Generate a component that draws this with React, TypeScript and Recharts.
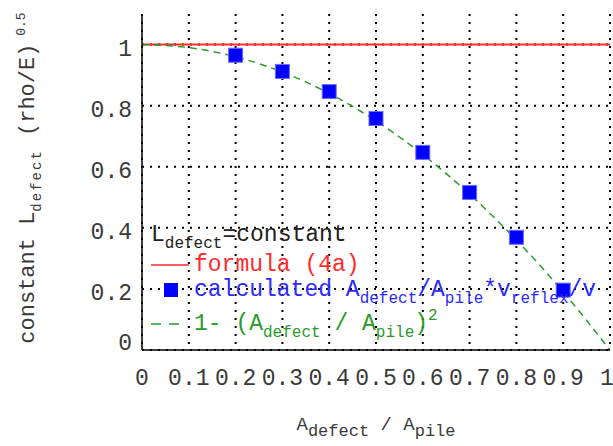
import {
  CartesianGrid,
  ComposedChart,
  Legend,
  Line,
  Scatter,
  XAxis,
  YAxis,
} from "recharts";

// formula (4a): constant 1 over the whole range
const formulaX = [0, 1];
const formulaY = [1, 1];

// calculated points (blue squares)
const calcX = [0.2, 0.3, 0.4, 0.5, 0.6, 0.7, 0.8, 0.9];
const calcY = [0.965, 0.912, 0.846, 0.758, 0.647, 0.516, 0.369, 0.196];

// 1-(Adefect/Apile)^2 curve
const curveX = [0, 0.1, 0.2, 0.3, 0.4, 0.5, 0.6, 0.7, 0.8, 0.9, 1];
const curveY = [1, 0.99, 0.96, 0.91, 0.84, 0.75, 0.64, 0.51, 0.36, 0.19, 0];

const xTicks = [0, 0.1, 0.2, 0.3, 0.4, 0.5, 0.6, 0.7, 0.8, 0.9, 1];
const yTicks = [0, 0.2, 0.4, 0.6, 0.8, 1];
const xMinorTicks = [
  0, 0.02, 0.04, 0.06, 0.08, 0.1, 0.12, 0.14, 0.16, 0.18, 0.2, 0.22, 0.24,
  0.26, 0.28, 0.3, 0.32, 0.34, 0.36, 0.38, 0.4, 0.42, 0.44, 0.46, 0.48, 0.5,
  0.52, 0.54, 0.56, 0.58, 0.6, 0.62, 0.64, 0.66, 0.68, 0.7, 0.72, 0.74, 0.76,
  0.78, 0.8, 0.82, 0.84, 0.86, 0.88, 0.9, 0.92, 0.94, 0.96, 0.98, 1,
];
const yMinorTicks = [
  0, 0.05, 0.1, 0.15, 0.2, 0.25, 0.3, 0.35, 0.4, 0.45, 0.5, 0.55, 0.6, 0.65,
  0.7, 0.75, 0.8, 0.85, 0.9, 0.95, 1, 1.05, 1.1,
];

const formulaData = formulaX.map((x, i) => ({ x, y: formulaY[i] }));
const calcData = calcX.map((x, i) => ({ x, y: calcY[i] }));
const curveData = curveX.map((x, i) => ({ x, y: curveY[i] }));

const FONT = "'Liberation Mono', monospace";
const INK = "#3a3a3a";
const RED = "#ff2a2a";
const BLUE = "#0000ff";
const GREEN = "#2a9a2a";

const noLabel = () => <g />;

function XTick(props: any) {
  const { x, y, payload, index } = props;
  const last = index === xTicks.length - 1;
  return (
    <text
      x={x + (last ? -3 : 0)}
      y={y}
      dy={17}
      textAnchor="middle"
      fontFamily={FONT}
      fontSize={23}
      fill={INK}
    >
      {String(payload.value)}
    </text>
  );
}

function YTick(props: any) {
  const { x, y, payload } = props;
  const v = payload.value;
  return (
    <text
      x={x}
      y={y}
      dy={v === 0 ? 0 : 11}
      textAnchor="end"
      fontFamily={FONT}
      fontSize={23}
      fill={INK}
    >
      {String(v)}
    </text>
  );
}

function Square(props: any) {
  const { cx, cy } = props;
  if (cx == null || cy == null) return <g />;
  return (
    <rect x={cx - 7} y={cy - 7} width={14} height={14} fill={BLUE} stroke="#6a6aff" strokeWidth={1} />
  );
}

function YTitle(props: any) {
  const vb = props.viewBox || { x: 0, y: 14, width: 142, height: 336 };
  const cx = vb.x + 34;
  const cy = vb.y + vb.height / 2 - 4;
  return (
    <text
      x={cx}
      y={cy}
      transform={`rotate(-90 ${cx} ${cy})`}
      textAnchor="middle"
      fontFamily={FONT}
      fontSize={22}
      fill={INK}
    >
      <tspan>constant L</tspan>
      <tspan fontSize={14} letterSpacing={2} dy={7}>defect</tspan>
      <tspan dy={-7}> (rho/E)</tspan>
      <tspan fontSize={13} dy={-9}> 0.5</tspan>
    </text>
  );
}

function XTitle(props: any) {
  const vb = props.viewBox || { x: 142, y: 350, width: 468, height: 96 };
  const cx = vb.x + vb.width / 2;
  return (
    <text x={cx} y={vb.y + 80} textAnchor="middle" fontFamily={FONT} fontSize={19} fill={INK}>
      <tspan>A</tspan>
      <tspan fontSize={17} dy={6}>defect</tspan>
      <tspan dy={-6}> / A</tspan>
      <tspan fontSize={17} dy={6}>pile</tspan>
    </text>
  );
}

const sub = { fontSize: 16, position: "relative" as const, top: 7 };
const sup = { fontSize: 16, position: "relative" as const, top: -10 };

function LegendBox() {
  const row = {
    position: "absolute" as const,
    left: 0,
    whiteSpace: "nowrap" as const,
    fontFamily: FONT,
    fontSize: 23,
    lineHeight: "23px",
  };
  return (
    <div style={{ position: "relative", width: 462, height: 120, overflow: "hidden" }}>
      <div style={{ ...row, top: 2, left: 4, color: "#222" }}>
        L<span style={sub}>defect</span>=constant
      </div>
      <div style={{ ...row, top: 32, color: RED }}>
        <svg width={44} height={20} style={{ verticalAlign: "middle", marginRight: 3 }}>
          <line x1={4} y1={10} x2={42} y2={10} stroke={RED} strokeWidth={1.5} />
        </svg>
        formula (4a)
      </div>
      <div style={{ ...row, top: 57, color: "#2a2aff" }}>
        <svg width={44} height={20} style={{ verticalAlign: "middle", marginRight: 3 }}>
          <rect x={17} y={3} width={14} height={14} fill={BLUE} />
        </svg>
        calculated A<span style={sub}>defect</span>/A<span style={sub}>pile</span>*v<span style={sub}>reflex</span>/v
      </div>
      <div style={{ ...row, top: 91, color: GREEN }}>
        <svg width={44} height={20} style={{ verticalAlign: "middle", marginRight: 3 }}>
          <line x1={4} y1={10} x2={40} y2={10} stroke={GREEN} strokeWidth={1.5} strokeDasharray="10 8" />
        </svg>
        1- (A<span style={sub}>defect</span> / A<span style={sub}>pile</span>)<span style={sup}>2</span>
      </div>
    </div>
  );
}

export default function App() {
  return (
    <div style={{ position: "absolute", left: 0, top: 0, background: "#fff" }}>
      <ComposedChart width={613} height={446} margin={{ top: 14, right: 3, bottom: 0, left: 0 }}>
        <CartesianGrid
          xAxisId="x"
          yAxisId="y"
          stroke="#000"
          strokeWidth={2}
          strokeDasharray="2 6"
          verticalValues={xTicks}
          horizontalValues={yTicks}
        />
        <XAxis
          xAxisId="x"
          dataKey="x"
          type="number"
          domain={[0, 1]}
          ticks={xTicks}
          interval={0}
          tickSize={0}
          tickMargin={18}
          height={96}
          tick={<XTick />}
          axisLine={{ stroke: "#000", strokeWidth: 1.5 }}
          label={<XTitle />}
        />
        <XAxis
          xAxisId="xb"
          type="number"
          domain={[0, 1]}
          ticks={xMinorTicks}
          interval={0}
          mirror
          height={0}
          tickSize={4}
          tick={noLabel}
          tickLine={{ stroke: "#000" }}
          axisLine={false}
        />
        <XAxis
          xAxisId="xt"
          orientation="top"
          type="number"
          domain={[0, 1]}
          ticks={xMinorTicks}
          interval={0}
          mirror
          height={0}
          tickSize={4}
          tick={noLabel}
          tickLine={{ stroke: "#000" }}
          axisLine={{ stroke: "#000", strokeWidth: 1.5 }}
        />
        <YAxis
          yAxisId="y"
          type="number"
          domain={[0, 1.1]}
          ticks={yTicks}
          interval={0}
          width={142}
          tickSize={0}
          tickMargin={10}
          tick={<YTick />}
          axisLine={{ stroke: "#000", strokeWidth: 1.5 }}
          label={<YTitle />}
        />
        <YAxis
          yAxisId="yl"
          type="number"
          domain={[0, 1.1]}
          ticks={yMinorTicks}
          interval={0}
          mirror
          width={0}
          tickSize={4}
          tick={noLabel}
          tickLine={{ stroke: "#000" }}
          axisLine={false}
        />
        <YAxis
          yAxisId="yr"
          orientation="right"
          type="number"
          domain={[0, 1.1]}
          ticks={yMinorTicks}
          interval={0}
          mirror
          width={0}
          tickSize={4}
          tick={noLabel}
          tickLine={{ stroke: "#000" }}
          axisLine={{ stroke: "#000", strokeWidth: 1.5 }}
        />
        <Line
          xAxisId="x"
          yAxisId="y"
          data={formulaData}
          dataKey="y"
          type="linear"
          stroke={RED}
          strokeWidth={2}
          dot={false}
          activeDot={false}
          isAnimationActive={false}
        />
        <Scatter
          xAxisId="x"
          yAxisId="y"
          data={calcData}
          dataKey="y"
          shape={<Square />}
          isAnimationActive={false}
        />
        <Line
          xAxisId="x"
          yAxisId="y"
          data={curveData}
          dataKey="y"
          type="monotone"
          stroke={GREEN}
          strokeWidth={1.5}
          strokeDasharray="7 5"
          dot={false}
          activeDot={false}
          isAnimationActive={false}
        />
        <Legend
          layout="horizontal"
          verticalAlign="middle"
          align="center"
          wrapperStyle={{ position: "absolute", left: 147, top: 222, width: 462, height: 120 }}
          content={() => <LegendBox />}
        />
      </ComposedChart>
    </div>
  );
}
